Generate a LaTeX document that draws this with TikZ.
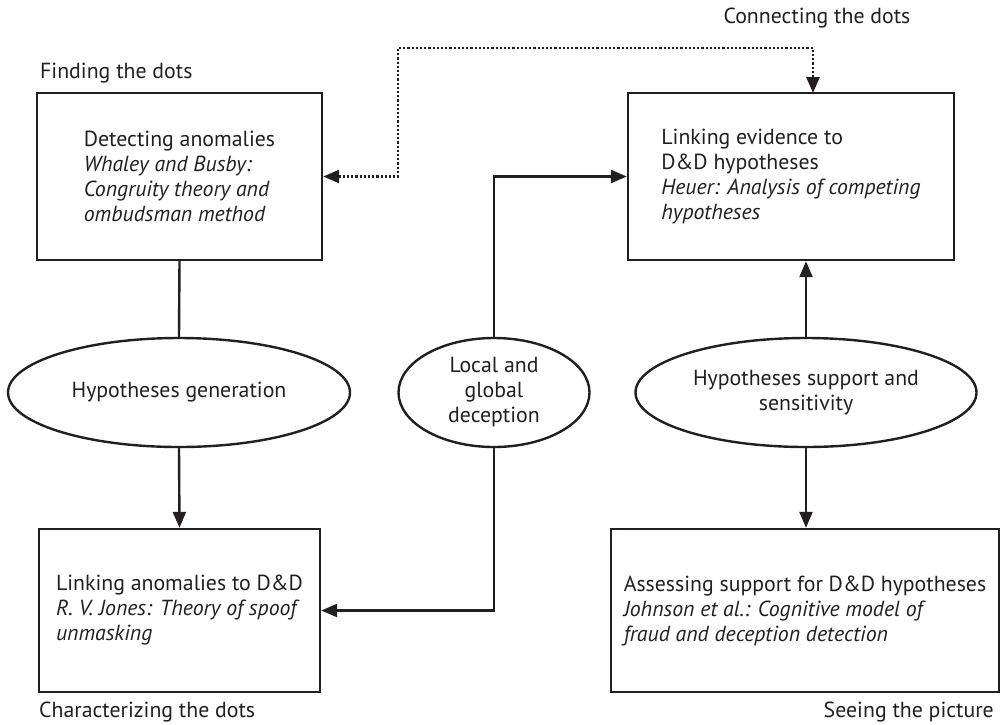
\documentclass[tikz,border=0pt]{standalone}
\usepackage{fontspec}
\setmainfont{PT Sans}
\usetikzlibrary{arrows.meta,shapes.geometric,calc}
\definecolor{ink}{HTML}{231F20}
\tikzset{
  every node/.style={text=ink, font=\fontsize{21.8}{25}\selectfont},
  stagebox/.style={draw=ink, line width=2.4pt, minimum width=#1, align=left, inner sep=0pt},
  phase/.style={draw=ink, line width=2.4pt, ellipse, inner sep=0pt, align=center},
  flow/.style={draw=ink, line width=2.4pt, -{Triangle[length=16pt,width=13pt]}},
  link/.style={draw=ink, line width=2.4pt},
  dotlink/.style={draw=ink, line width=2.8pt, dash pattern=on 2.2pt off 2pt,
    {Triangle[length=16pt,width=13pt]}-{Triangle[length=16pt,width=13pt]}},
  caption/.style={inner sep=0pt}
}
\begin{document}
\begin{tikzpicture}[x=1pt,y=-1pt]
\useasboundingbox (0,0) rectangle (1001,724);

% stage boxes
\node[stagebox=285pt, minimum height=167pt] (detect) at (179.5,176.5)
  {Detecting anomalies\\\textit{Whaley and Busby:}\\\textit{Congruity theory and}\\\textit{ombudsman method}};
\node[stagebox=326pt, minimum height=167pt] (evid) at (791,176.5)
  {Linking evidence to\\D\&D hypotheses\\\textit{Heuer: Analysis of competing}\\\textit{hypotheses}};
\node[stagebox=281pt, minimum height=163pt] (anom) at (179.5,610.5)
  {Linking anomalies to D\&D\\\textit{R. V. Jones: Theory of spoof}\\\textit{unmasking}};
\node[stagebox=388pt, minimum height=163pt] (assess) at (805,610.5)
  {Assessing support for D\&D hypotheses\\\textit{Johnson et al.: Cognitive model of}\\\textit{fraud and deception detection}};

% phase ellipses
\node[phase, minimum width=342pt, minimum height=109pt] (gen) at (179,392.5) {Hypotheses generation};
\node[phase, minimum width=191pt, minimum height=109pt] (locglob) at (494,392.5) {Local and\\global\\deception};
\node[phase, minimum width=341pt, minimum height=109pt] (supp) at (806,392.5) {Hypotheses support and\\sensitivity};

% captions
\node[caption, anchor=west] (capfind) at (40,73) {Finding the dots};
\node[caption] (capconn) at (817,18) {Connecting the dots};
\node[caption, anchor=west] (capchar) at (39,712) {Characterizing the dots};
\node[caption, anchor=east] (capsee) at (994,712) {Seeing the picture};

% connectors
\draw[link] (detect.south) -- (gen.north);
\draw[flow] (gen.south) -- (anom.north);
\draw[flow] (locglob.north) |- (evid.west);
\draw[flow] (locglob.south) |- (anom.east);
\draw[flow] (supp.north) -- (evid.south -| supp.north);
\draw[flow] (supp.south) -- (assess.north -| supp.south);

% dotted feedback between the two upper stages
\coordinate (loopcorner) at (398,48);
\coordinate (looptarget) at (813,93);
\draw[dotlink] (detect.east) -| (loopcorner) -| (looptarget);
\end{tikzpicture}
\end{document}
